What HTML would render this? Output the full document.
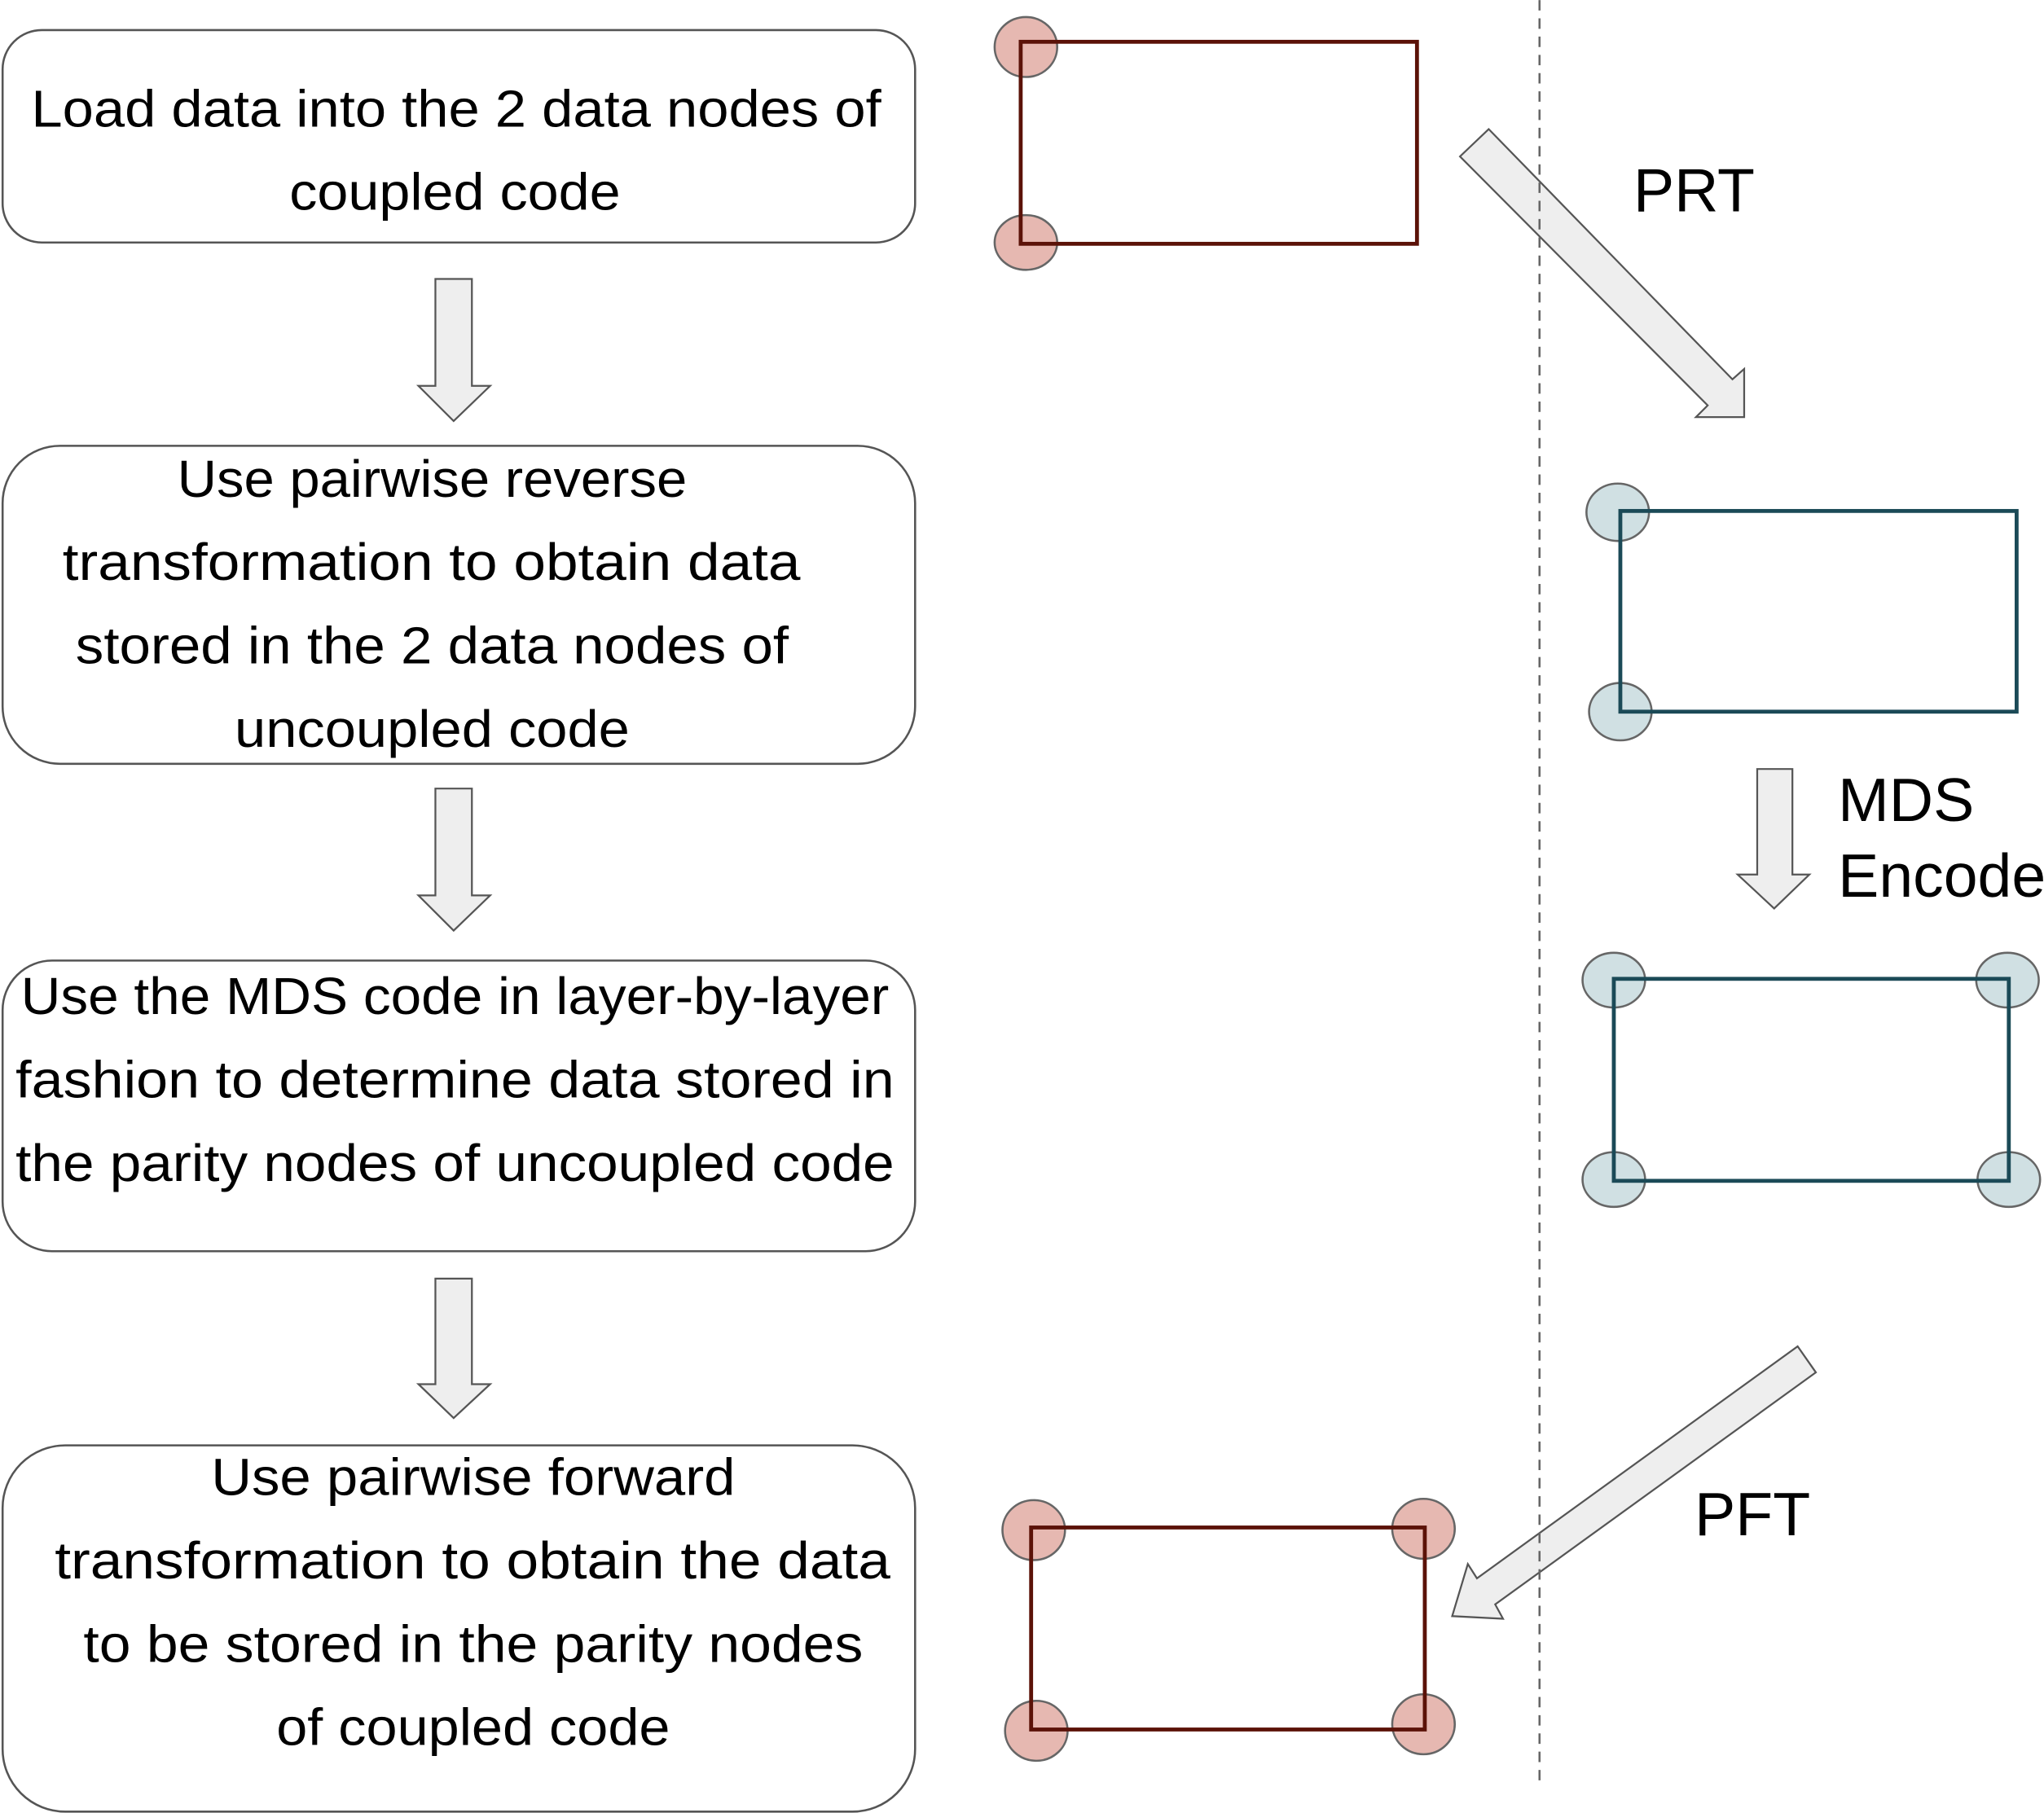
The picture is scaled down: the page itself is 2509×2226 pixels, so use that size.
<!DOCTYPE html>
<html><head><style>html,body{margin:0;padding:0;background:#fff}svg{display:block}</style></head>
<body>
<svg width="2509" height="2226" viewBox="0 0 1568 1391" xmlns="http://www.w3.org/2000/svg">
<g fill="none" stroke="#555" stroke-width="1.6">
<rect x="2" y="23" width="700" height="163" rx="30"/>
<rect x="2" y="342" width="700" height="244" rx="44"/>
<rect x="2" y="737" width="700" height="223" rx="38"/>
<rect x="2" y="1109" width="700" height="281" rx="48"/>
</g>
<g font-family="Liberation Sans, sans-serif" font-size="40" fill="#000" lengthAdjust="spacingAndGlyphs">
<text x="24" y="97" textLength="652" lengthAdjust="spacingAndGlyphs">Load data into the 2 data nodes of</text>
<text x="222" y="161" textLength="254" lengthAdjust="spacingAndGlyphs">coupled code</text>
<text x="136" y="381" textLength="391" lengthAdjust="spacingAndGlyphs">Use pairwise reverse</text>
<text x="48" y="445" textLength="566" lengthAdjust="spacingAndGlyphs">transformation to obtain data</text>
<text x="58" y="509" textLength="547" lengthAdjust="spacingAndGlyphs">stored in the 2 data nodes of</text>
<text x="180" y="573" textLength="303" lengthAdjust="spacingAndGlyphs">uncoupled code</text>
<text x="16" y="778" textLength="666" lengthAdjust="spacingAndGlyphs">Use the MDS code in layer-by-layer</text>
<text x="12" y="842" textLength="674" lengthAdjust="spacingAndGlyphs">fashion to determine data stored in</text>
<text x="12" y="906" textLength="674" lengthAdjust="spacingAndGlyphs">the parity nodes of uncoupled code</text>
<text x="162" y="1147" textLength="402" lengthAdjust="spacingAndGlyphs">Use pairwise forward</text>
<text x="42" y="1211" textLength="641" lengthAdjust="spacingAndGlyphs">transformation to obtain the data</text>
<text x="64" y="1275" textLength="598" lengthAdjust="spacingAndGlyphs">to be stored in the parity nodes</text>
<text x="212" y="1339" textLength="302" lengthAdjust="spacingAndGlyphs">of coupled code</text>
</g>
<g fill="#eeeeee" stroke="#555" stroke-width="1.4">
<polygon points="334,214 362,214 362,296 376,296 348,323 321,296 334,296"/>
<polygon points="334,605 362,605 362,687 376,687 348,714 321,687 334,687"/>
<polygon points="334,981 362,981 362,1062 376,1062 348,1088 321,1062 334,1062"/>
<polygon points="1348,590 1375,590 1375,671 1388,671 1361,697 1333,671 1348,671"/>
<polygon points="1142,99 1329,291 1338,283 1338,320 1301,320 1310,311 1120,120"/>
<polygon points="1379,1033 1393,1053 1147,1231 1153,1242 1114,1240 1126,1200 1133,1211"/>
</g>
<line x1="1181" y1="0" x2="1181" y2="1370" stroke="#666" stroke-width="1.6" stroke-dasharray="8,6"/>
<g fill="#e6b8b1" stroke="#666" stroke-width="1.6">
<ellipse cx="787" cy="36" rx="24" ry="23"/><ellipse cx="787" cy="186" rx="24" ry="21"/>
<ellipse cx="793" cy="1174" rx="24" ry="23"/><ellipse cx="1092" cy="1173" rx="24" ry="23"/>
<ellipse cx="795" cy="1328" rx="24" ry="23"/><ellipse cx="1092" cy="1323" rx="24" ry="23"/>
</g>
<g fill="#d0e0e3" stroke="#666" stroke-width="1.6">
<ellipse cx="1241" cy="393" rx="24" ry="22"/><ellipse cx="1243" cy="546" rx="24" ry="22"/>
<ellipse cx="1238" cy="752" rx="24" ry="21"/><ellipse cx="1540" cy="752" rx="24" ry="21"/>
<ellipse cx="1238" cy="905" rx="24" ry="21"/><ellipse cx="1541" cy="905" rx="24" ry="21"/>
</g>
<g fill="none" stroke-width="3">
<rect x="783" y="32" width="304" height="155" stroke="#5b1208"/>
<rect x="791" y="1172" width="302" height="155" stroke="#5b1208"/>
<rect x="1243" y="392" width="304" height="154" stroke="#1b4a57"/>
<rect x="1238" y="751" width="303" height="155" stroke="#1b4a57"/>
</g>
<g font-family="Liberation Sans, sans-serif" font-size="47" fill="#000">
<text x="1253" y="162">PRT</text>
<text x="1410" y="630">MDS</text>
<text x="1410" y="688">Encode</text>
<text x="1300" y="1178">PFT</text>
</g>
</svg>
</body></html>
